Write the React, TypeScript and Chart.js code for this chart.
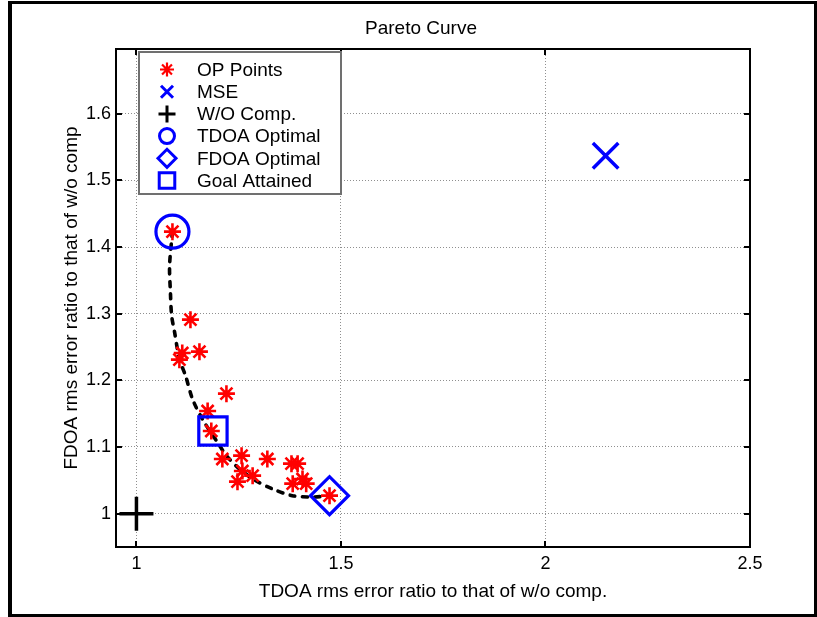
import React, { useEffect, useRef } from "react";
import { Chart, registerables } from "chart.js";
import { drawPoint } from "chart.js/helpers";

Chart.register(...registerables);

// ---- data ----
const opX = [1.088, 1.132, 1.112, 1.154, 1.105, 1.22, 1.174, 1.183, 1.21, 1.257, 1.32, 1.259, 1.284, 1.247, 1.379, 1.394, 1.406, 1.382, 1.415, 1.472];
const opY = [1.423, 1.291, 1.241, 1.243, 1.231, 1.18, 1.154, 1.124, 1.082, 1.087, 1.082, 1.064, 1.057, 1.048, 1.075, 1.075, 1.052, 1.045, 1.045, 1.027];

const curveX = [1.088, 1.081, 1.083, 1.086, 1.093, 1.105, 1.12, 1.137, 1.161, 1.196, 1.22, 1.252, 1.293, 1.333, 1.381, 1.43, 1.472];
const curveY = [1.423, 1.372, 1.333, 1.297, 1.273, 1.232, 1.207, 1.172, 1.142, 1.109, 1.087, 1.067, 1.049, 1.037, 1.027, 1.025, 1.027];

const mseX = [2.147];
const mseY = [1.537];
const woX = [1];
const woY = [1];
const tdoaX = [1.088];
const tdoaY = [1.423];
const fdoaX = [1.472];
const fdoaY = [1.027];
const goalX = [1.187];
const goalY = [1.124];

const xTicks = [1, 1.5, 2, 2.5];
const yTicks = [1, 1.1, 1.2, 1.3, 1.4, 1.5, 1.6];
const xLabels = ["1", "1.5", "2", "2.5"];
const yLabels = ["1", "1.1", "1.2", "1.3", "1.4", "1.5", "1.6"];

const legendNames = ["OP Points", "MSE", "W/O Comp.", "TDOA Optimal", "FDOA Optimal", "Goal Attained"];

const title = "Pareto Curve";
const xTitle = "TDOA rms error ratio to that of w/o comp.";
const yTitle = "FDOA rms error ratio to that of w/o comp";

const FONT = "'Liberation Sans', Arial, Helvetica, sans-serif";
const RED = "#ff0000";
const BLUE = "#0000ff";

const pts = (xs: number[], ys: number[]) => xs.map((x, i) => ({ x, y: ys[i] }));

const legendStyles = [
  { pointStyle: "star", radius: 7, color: RED, width: 2.2 },
  { pointStyle: "crossRot", radius: 8.5, color: BLUE, width: 3 },
  { pointStyle: "cross", radius: 8.5, color: "#000", width: 3 },
  { pointStyle: "circle", radius: 7.5, color: BLUE, width: 3 },
  { pointStyle: "rectRot", radius: 9, color: BLUE, width: 3 },
  { pointStyle: "rect", radius: 11, color: BLUE, width: 3 },
];

const decorPlugin = {
  id: "decor",
  afterDraw(chart: any) {
    const { ctx, chartArea: a, scales } = chart;
    ctx.save();
    // inner ticks
    ctx.strokeStyle = "#000";
    ctx.lineWidth = 2;
    ctx.beginPath();
    for (const v of xTicks) {
      const px = Math.round(scales.x.getPixelForValue(v));
      ctx.moveTo(px, a.bottom);
      ctx.lineTo(px, a.bottom - 6);
      ctx.moveTo(px, a.top);
      ctx.lineTo(px, a.top + 6);
    }
    for (const v of yTicks) {
      const py = Math.round(scales.y.getPixelForValue(v));
      ctx.moveTo(a.left, py);
      ctx.lineTo(a.left + 6, py);
      ctx.moveTo(a.right, py);
      ctx.lineTo(a.right - 6, py);
    }
    ctx.stroke();

    // legend
    const lx = 139, ly = 52, lw = 202, lh = 142;
    ctx.fillStyle = "#fff";
    ctx.fillRect(lx, ly, lw, lh);
    ctx.strokeStyle = "#707070";
    ctx.lineWidth = 2;
    ctx.strokeRect(lx, ly, lw, lh);
    ctx.font = `19px ${FONT}`;
    ctx.textBaseline = "middle";
    ctx.textAlign = "left";
    legendNames.forEach((name, i) => {
      const y = 69.5 + i * 22.2;
      const s = legendStyles[i];
      ctx.save();
      ctx.strokeStyle = s.color;
      ctx.fillStyle = "rgba(0,0,0,0)";
      ctx.lineWidth = s.width;
      drawPoint(ctx, { pointStyle: s.pointStyle, radius: s.radius, rotation: 0, borderWidth: s.width }, 167, y);
      ctx.restore();
      ctx.fillStyle = "#000";
      ctx.fillText(name, 197, y + 1);
    });

    // axes frame
    ctx.strokeStyle = "#000";
    ctx.lineWidth = 2;
    ctx.strokeRect(a.left, a.top, a.right - a.left, a.bottom - a.top);

    // titles
    ctx.fillStyle = "#000";
    ctx.textAlign = "center";
    ctx.textBaseline = "middle";
    ctx.font = `19px ${FONT}`;
    ctx.fillText(title, 421, 29);
    ctx.fillText(xTitle, 433, 592);
    ctx.save();
    ctx.translate(72, 298);
    ctx.rotate(-Math.PI / 2);
    ctx.fillText(yTitle, 0, 0);
    ctx.restore();

    // outer figure border
    ctx.fillStyle = "#000";
    ctx.fillRect(8, 1, 809, 3);
    ctx.fillRect(8, 1, 4, 616);
    ctx.fillRect(8, 614, 809, 3);
    ctx.fillRect(814, 1, 3, 616);
    ctx.restore();
  },
};

export default function App() {
  const ref = useRef<HTMLCanvasElement | null>(null);
  useEffect(() => {
    if (!ref.current) return;
    const chart = new Chart(ref.current, {
      type: "scatter",
      data: {
        datasets: [
          {
            label: "Goal Attained",
            data: pts(goalX, goalY),
            pointStyle: "rect",
            pointRadius: 20,
            pointBorderWidth: 3.2,
            pointBorderColor: BLUE,
            pointBackgroundColor: "rgba(0,0,0,0)",
          },
          {
            label: "FDOA Optimal",
            data: pts(fdoaX, fdoaY),
            pointStyle: "rectRot",
            pointRadius: 19,
            pointBorderWidth: 3.2,
            pointBorderColor: BLUE,
            pointBackgroundColor: "rgba(0,0,0,0)",
          },
          {
            label: "TDOA Optimal",
            data: pts(tdoaX, tdoaY),
            pointStyle: "circle",
            pointRadius: 16.5,
            pointBorderWidth: 3.2,
            pointBorderColor: BLUE,
            pointBackgroundColor: "rgba(0,0,0,0)",
          },
          {
            label: "W/O Comp.",
            data: pts(woX, woY),
            pointStyle: "cross",
            pointRadius: 17,
            pointBorderWidth: 3.5,
            pointBorderColor: "#000",
            pointBackgroundColor: "rgba(0,0,0,0)",
          },
          {
            label: "MSE",
            data: pts(mseX, mseY),
            pointStyle: "crossRot",
            pointRadius: 18,
            pointBorderWidth: 3.5,
            pointBorderColor: BLUE,
            pointBackgroundColor: "rgba(0,0,0,0)",
          },
          {
            label: "OP Points",
            data: pts(opX, opY),
            pointStyle: "star",
            pointRadius: 8.5,
            pointBorderWidth: 2.6,
            pointBorderColor: RED,
            pointBackgroundColor: "rgba(0,0,0,0)",
          },
          {
            label: "Pareto fit",
            data: pts(curveX, curveY),
            showLine: true,
            pointRadius: 0,
            borderColor: "#000",
            borderWidth: 3.6,
            borderDash: [5, 7.5],
            borderCapStyle: "round",
            tension: 0.3,
          },
        ],
      },
      options: {
        animation: false,
        responsive: false,
        devicePixelRatio: 1,
        layout: { padding: { left: 0, top: 49, right: 67, bottom: 0 } },
        plugins: { legend: { display: false }, tooltip: { enabled: false }, title: { display: false } },
        scales: {
          x: {
            type: "linear",
            min: 0.95,
            max: 2.5,
            afterBuildTicks: (s: any) => {
              s.ticks = xTicks.map((v) => ({ value: v }));
            },
            afterFit: (s: any) => {
              s.height = 70;
            },
            ticks: {
              autoSkip: false,
              maxRotation: 0,
              padding: 6,
              color: "#000",
              font: { family: FONT, size: 18 },
              callback: (v: any) => {
                const i = xTicks.indexOf(Number(v));
                return i >= 0 ? xLabels[i] : "";
              },
            },
            grid: { color: "#8f8f8f", lineWidth: 1, drawTicks: false },
            border: { display: false, dash: [1, 2] },
          },
          y: {
            type: "linear",
            min: 0.95,
            max: 1.697,
            afterBuildTicks: (s: any) => {
              s.ticks = yTicks.map((v) => ({ value: v }));
            },
            afterFit: (s: any) => {
              s.width = 116;
            },
            ticks: {
              autoSkip: false,
              padding: 5,
              color: "#000",
              font: { family: FONT, size: 18 },
              callback: (v: any) => {
                const i = yTicks.findIndex((t) => Math.abs(t - Number(v)) < 1e-9);
                return i >= 0 ? yLabels[i] : "";
              },
            },
            grid: { color: "#8f8f8f", lineWidth: 1, drawTicks: false },
            border: { display: false, dash: [1, 2] },
          },
        },
      },
      plugins: [decorPlugin],
    } as any);
    return () => chart.destroy();
  }, []);

  return (
    <div style={{ position: "fixed", left: 0, top: 0, width: 817, height: 617, background: "#fff" }}>
      <canvas ref={ref} width={817} height={617} style={{ display: "block" }} />
    </div>
  );
}
